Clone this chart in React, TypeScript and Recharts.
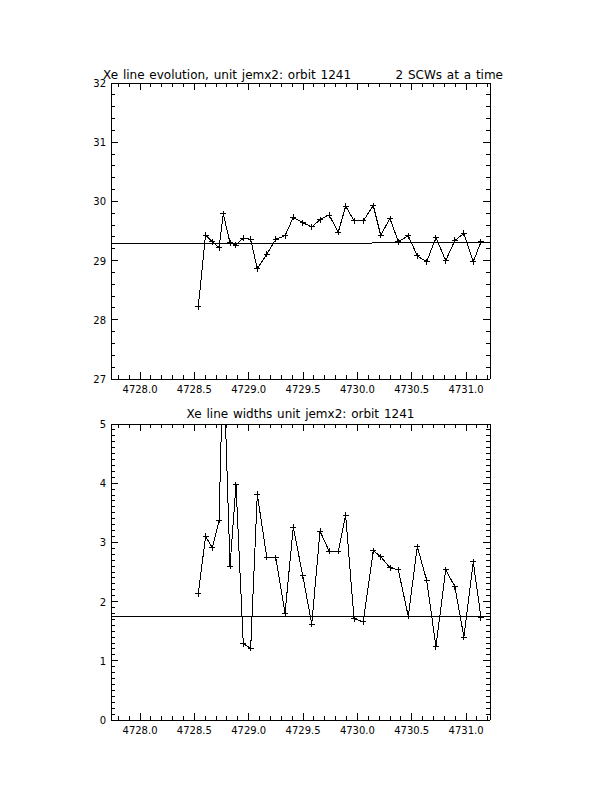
import { LineChart, Line, XAxis, YAxis, ReferenceLine } from 'recharts'

// time of each pair of science windows (days)
const dates = [
  4728.536, 4728.603, 4728.665, 4728.727, 4728.766, 4728.828, 4728.883, 4728.95, 4729.018,
  4729.079, 4729.166, 4729.25, 4729.334, 4729.41, 4729.497, 4729.58, 4729.656, 4729.74,
  4729.824, 4729.892, 4729.969, 4730.054, 4730.146, 4730.214, 4730.3, 4730.376, 4730.468,
  4730.551, 4730.637, 4730.723, 4730.812, 4730.897, 4730.98, 4731.066, 4731.137,
]

// Xe line position
const xeLine = [
  28.22, 29.43, 29.32, 29.22, 29.79, 29.3, 29.26, 29.38, 29.36,
  28.86, 29.11, 29.36, 29.42, 29.73, 29.64, 29.57, 29.69, 29.77,
  29.48, 29.92, 29.67, 29.67, 29.93, 29.43, 29.71, 29.32, 29.42,
  29.08, 28.98, 29.39, 29.0, 29.34, 29.46, 28.98, 29.32,
]

// Xe line widths
const xeWidth = [
  2.13, 3.1, 2.91, 3.37, 6.2, 2.6, 3.97, 1.29, 1.21,
  3.81, 2.75, 2.74, 1.8, 3.26, 2.44, 1.62, 3.19, 2.85,
  2.85, 3.46, 1.71, 1.66, 2.86, 2.76, 2.57, 2.54, 1.75,
  2.93, 2.36, 1.24, 2.54, 2.25, 1.4, 2.67, 1.73,
]

const lineFit = [29.292, 29.309]
const lineFitBreak = 4730.131
const widthFit = 1.74

const xDomain = [4727.733, 4731.22]
const dateLabels = [4728.0, 4728.5, 4729.0, 4729.5, 4730.0, 4730.5, 4731.0]
const lineLabels = [27, 28, 29, 30, 31, 32]
const widthLabels = [0, 1, 2, 3, 4, 5]

const FONT = 'DejaVu Sans'

function steps(from: number, to: number, step: number) {
  const out: number[] = []
  const n = Math.round((to - from) / step)
  for (let i = 0; i <= n; i++) out.push(Math.round((from + i * step) * 1000) / 1000)
  return out
}

const dateTicks = steps(4727.8, 4731.2, 0.1)

const isMajor = (v: number, majors: number[]) => majors.some((m) => Math.abs(m - v) < 1e-6)

function makeTick(side: 'bottom' | 'top' | 'left' | 'right', majors: number[], fmt?: (v: number) => string) {
  return (props: any) => {
    const { x, y, payload, index } = props
    const v = payload.value
    const major = isMajor(v, majors)
    const len = major ? 7 : 4
    let line
    if (side === 'bottom') line = <line x1={x} x2={x} y1={y} y2={y - len} stroke="#000" />
    else if (side === 'top') line = <line x1={x} x2={x} y1={y} y2={y + len} stroke="#000" />
    else if (side === 'left') line = <line x1={x} x2={x + len} y1={y} y2={y} stroke="#000" />
    else line = <line x1={x} x2={x - len} y1={y} y2={y} stroke="#000" />
    let label = null
    if (fmt && major) {
      if (side === 'bottom')
        label = (
          <text x={x} y={y + 14} textAnchor="middle" fontSize={10} fontFamily={FONT} fill="#000">
            {fmt(v)}
          </text>
        )
      else
        label = (
          <text x={x - 5} y={y + 4} textAnchor="end" fontSize={10} fontFamily={FONT} fill="#000">
            {fmt(v)}
          </text>
        )
    }
    return (
      <g key={`t-${side}-${index}`}>
        {line}
        {label}
      </g>
    )
  }
}

const renderCross = (props: any) => {
  const { cx, cy, index } = props
  if (cx == null || cy == null) return <g key={`c-${index}`} />
  return (
    <g key={`c-${index}`}>
      <line x1={cx - 3} x2={cx + 3} y1={cy} y2={cy} stroke="#000" />
      <line x1={cx} x2={cx} y1={cy - 3} y2={cy + 3} stroke="#000" />
    </g>
  )
}

interface PanelProps {
  values: number[]
  yDomain: [number, number]
  yLabels: number[]
  yTicks: number[]
  top: number
  fit: 'line' | 'width'
}

function Panel({ values, yDomain, yLabels, yTicks, top, fit }: PanelProps) {
  const data = dates.map((d, i) => ({ date: d, v: values[i] }))
  const axisLine = { stroke: '#000' }
  return (
    <div style={{ position: 'absolute', left: 0, top }}>
      <LineChart width={612} height={420} data={data} margin={{ top: 73, right: 112, bottom: 11, left: 81 }}>
        <XAxis
          xAxisId="b"
          dataKey="date"
          type="number"
          domain={xDomain}
          allowDataOverflow
          ticks={dateTicks}
          interval={0}
          tickSize={0}
          tickMargin={0}
          height={30}
          axisLine={axisLine}
          tick={makeTick('bottom', dateLabels, (v) => v.toFixed(1))}
        />
        <XAxis
          xAxisId="t"
          orientation="top"
          dataKey="date"
          type="number"
          domain={xDomain}
          allowDataOverflow
          ticks={dateTicks}
          interval={0}
          tickSize={0}
          tickMargin={0}
          height={10}
          axisLine={axisLine}
          tick={makeTick('top', dateLabels)}
        />
        <YAxis
          yAxisId="l"
          type="number"
          domain={yDomain}
          allowDataOverflow
          ticks={yTicks}
          interval={0}
          tickSize={0}
          tickMargin={0}
          width={30}
          axisLine={axisLine}
          tick={makeTick('left', yLabels, (v) => String(Math.round(v)))}
        />
        <YAxis
          yAxisId="r"
          orientation="right"
          type="number"
          domain={yDomain}
          allowDataOverflow
          ticks={yTicks}
          interval={0}
          tickSize={0}
          tickMargin={0}
          width={10}
          axisLine={axisLine}
          tick={makeTick('right', yLabels)}
        />
        {fit === 'line' ? (
          <>
            <ReferenceLine
              xAxisId="b"
              yAxisId="l"
              segment={[
                { x: xDomain[0], y: lineFit[0] },
                { x: lineFitBreak, y: lineFit[0] },
              ]}
              stroke="#000"
            />
            <ReferenceLine
              xAxisId="b"
              yAxisId="l"
              segment={[
                { x: lineFitBreak, y: lineFit[1] },
                { x: xDomain[1], y: lineFit[1] },
              ]}
              stroke="#000"
            />
          </>
        ) : (
          <ReferenceLine xAxisId="b" yAxisId="l" y={widthFit} stroke="#000" />
        )}
        <Line
          xAxisId="b"
          yAxisId="l"
          type="linear"
          dataKey="v"
          stroke="#000"
          strokeWidth={1}
          dot={renderCross}
          activeDot={false}
          isAnimationActive={false}
        />
      </LineChart>
    </div>
  )
}

const titleStyle: React.CSSProperties = {
  position: 'absolute',
  fontFamily: FONT,
  fontSize: 12,
  lineHeight: '14px',
  wordSpacing: 1,
  whiteSpace: 'nowrap',
  color: '#000',
}

export default function App() {
  return (
    <div style={{ position: 'absolute', left: 0, top: 0, width: 612, height: 792, background: '#fff' }}>
      <style>{'svg line, svg path { shape-rendering: crispEdges; }'}</style>
      <Panel values={xeLine} yDomain={[27, 32]} yLabels={lineLabels} yTicks={steps(27, 32, 0.2)} top={0} fit="line" />
      <Panel values={xeWidth} yDomain={[0, 5]} yLabels={widthLabels} yTicks={steps(0, 5, 0.1)} top={341} fit="width" />
      <div style={{ ...titleStyle, left: 103, top: 68 }}>Xe line evolution, unit jemx2: orbit 1241</div>
      <div style={{ ...titleStyle, right: 612 - 503, top: 68 }}>2 SCWs at a time</div>
      <div style={{ ...titleStyle, left: 0, width: 601, textAlign: 'center', top: 407 }}>
        Xe line widths unit jemx2: orbit 1241
      </div>
    </div>
  )
}
